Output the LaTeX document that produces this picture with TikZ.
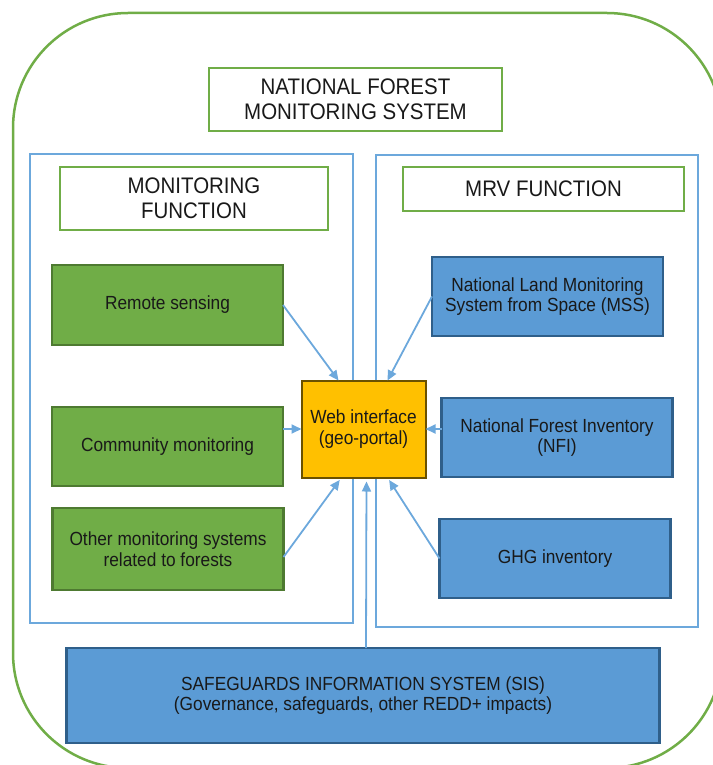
\documentclass[tikz,border=0pt]{standalone}
\usepackage{fontspec}
\setmainfont{Liberation Sans}[FakeStretch=0.91]
\usepackage{xcolor}
\usetikzlibrary{arrows.meta}
\definecolor{leaf}{HTML}{70AD47}
\definecolor{leafdark}{HTML}{4E7A31}
\definecolor{sky}{HTML}{5B9BD5}
\definecolor{skydark}{HTML}{2F5F8A}
\definecolor{skyline}{HTML}{6CA8DC}
\definecolor{amber}{HTML}{FFC000}
\definecolor{amberdark}{HTML}{6B5100}
\newcommand{\TXT}[0]{\fontsize{19}{20.7}\selectfont}
\newcommand{\HEAD}[0]{\fontsize{22.5}{25}\selectfont}

\begin{document}
\begin{tikzpicture}[x=1pt,y=-1pt,
  box/.style={inner sep=0pt,outer sep=0pt,align=center,text=black!90},
  headbox/.style={box,draw=leaf,line width=2.8pt,fill=white,font=\HEAD},
  panel/.style={box,draw=skyline,line width=2.5pt},
  greenbox/.style={box,draw=leafdark,fill=leaf,line width=2.5pt,font=\TXT,
    minimum width=231pt},
  bluebox/.style={box,draw=skydark,fill=sky,line width=2.5pt,font=\TXT,
    minimum width=231pt,minimum height=79pt},
  link/.style={draw=skyline,line width=1.8pt,-{Triangle[length=10pt,width=9pt]}}]

  \useasboundingbox (0,0) rectangle (712,765);

  %% frame and panels
  \node[box,draw=leaf,line width=2.5pt,rounded corners=115pt,
    minimum width=709pt,minimum height=755pt] (nfms) at (367.5,390.5) {};
  \node[panel,minimum width=323pt,minimum height=469pt] (monpanel) at (191.5,388.5) {};
  \node[panel,minimum width=322pt,minimum height=472pt] (mrvpanel) at (537,391) {};

  %% headings
  \node[headbox,minimum width=293pt,minimum height=63pt] (title) at (355.5,99.5)
    {NATIONAL FOREST\\MONITORING SYSTEM};
  \node[headbox,minimum width=268pt,minimum height=63pt] (monfun) at (194,198.5)
    {MONITORING\\FUNCTION};
  \node[headbox,minimum width=281pt,minimum height=44pt] (mrvfun) at (543.5,189)
    {MRV FUNCTION};

  %% monitoring side
  \node[greenbox,minimum height=80pt] (rs) at (167.5,305) {Remote sensing};
  \node[greenbox,minimum height=79pt] (cm) at (167.5,446.5) {Community monitoring};
  \node[greenbox,minimum height=82pt] (other) at (168,549)
    {Other monitoring systems\\related to forests};

  %% MRV side
  \node[bluebox] (nlms) at (547.5,296.5)
    {National Land Monitoring\\System from Space (MSS)};
  \node[bluebox] (nfi) at (557,437.5) {National Forest Inventory\\(NFI)};
  \node[bluebox] (ghg) at (555,558.5) {GHG inventory};

  \node[box,draw=amberdark,fill=amber,line width=2pt,font=\TXT,
    minimum width=124pt,minimum height=97pt] (web) at (363.5,429)
    {Web interface\\(geo-portal)};

  \node[box,draw=skydark,fill=sky,line width=2.5pt,font=\TXT,
    minimum width=593pt,minimum height=95pt] (sis) at (363,695.5)
    {SAFEGUARDS INFORMATION SYSTEM (SIS)\\(Governance, safeguards, other REDD+ impacts)};

  \draw[link] (rs.east) -- ([xshift=-25pt]web.north); %% rs - web
  \draw[link] (cm.east |- web.west) -- (web.west); %% cm - web
  \draw[link,shorten >=3pt] ([yshift=-8pt]other.east) -- ([xshift=-22pt]web.south); %% other - web
  \draw[link] (nlms.west) -- ([xshift=24pt]web.north); %% nlms - web
  \draw[link] (nfi.west |- web.east) -- (web.east); %% nfi - web
  \draw[link,shorten >=3pt] (ghg.west) -- ([xshift=24pt]web.south); %% ghg - web
  \draw[link,shorten >=4pt] ([xshift=3pt]sis.north) -- ([xshift=3pt]web.south); %% sis - web

\end{tikzpicture}
\end{document}
